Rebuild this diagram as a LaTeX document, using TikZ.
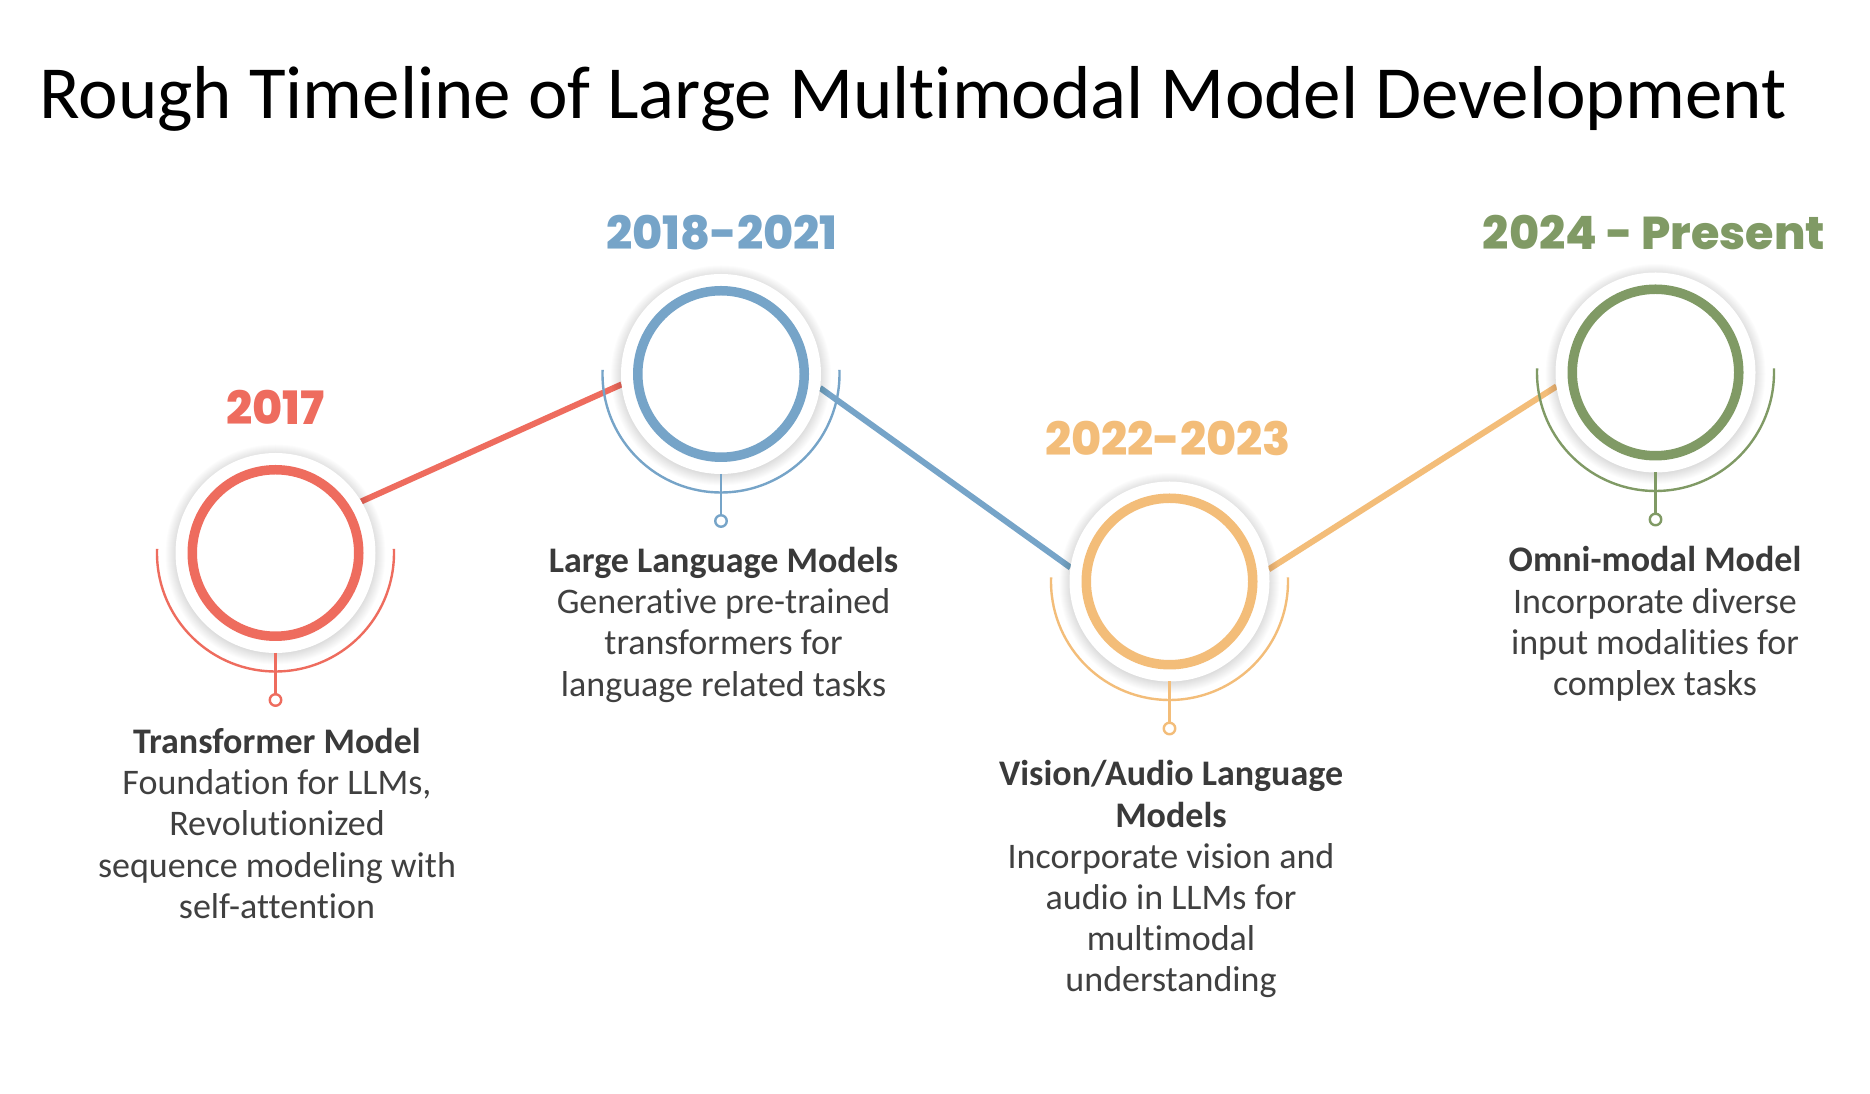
\documentclass[tikz,border=0pt]{standalone}
\usepackage{fontspec}
\setmainfont{Carlito}[Ligatures={NoCommon}]
\newfontfamily\yearfont{Poppins}[BoldFont={* ExtraBold}]
\usetikzlibrary{calc}
\pgfdeclarelayer{back}
\pgfsetlayers{back,main}

\definecolor{cred}{HTML}{EE6C5E}
\definecolor{cblue}{HTML}{76A4C8}
\definecolor{corange}{HTML}{F3BD79}
\definecolor{cgreen}{HTML}{809A65}
\definecolor{headcol}{HTML}{3A3A3A}
\definecolor{bodycol}{HTML}{404040}

\tikzset{
  disc/.style={circle, minimum size=200pt, inner sep=0pt, outer sep=0pt, fill=white},
  glow/.style={fill=black, fill opacity=0.011, draw=none},
  ring/.style={circle, minimum size=166.5pt, inner sep=0pt, outer sep=0pt, draw=#1, line width=9.5pt},
  halfarc/.style={draw=#1, line width=2.4pt},
  stem/.style={draw=#1, line width=2.4pt},
  dot/.style={circle, minimum size=11.5pt, inner sep=0pt, outer sep=0pt, draw=#1, line width=2.4pt, fill=white},
  link/.style={draw=#1, line width=6pt},
  year/.style={text=#1, anchor=base, inner sep=0pt, font=\yearfont\bfseries\fontsize{46}{52}\selectfont},
  desc/.style={anchor=base, inner sep=0pt, text=bodycol, font=\fontsize{36}{41.2}\selectfont},
}

\begin{document}
\begin{tikzpicture}[x=1pt,y=1pt]
\useasboundingbox (0,0) rectangle (1870,1094);
\begin{pgfonlayer}{back}
  \fill[white] (0,0) rectangle (1870,1094);
\end{pgfonlayer}

% title
\node[anchor=base, inner sep=0pt, font=\fontsize{75}{88}\selectfont] (title) at (913,975)
  {Rough Timeline of Large Multimodal Model Development};

% centres
\coordinate (p1) at (275.5,541);
\coordinate (p2) at (721,720);
\coordinate (p3) at (1169.5,512.5);
\coordinate (p4) at (1655.5,721.5);

% soft shadows around the discs
\foreach \p in {p1,p2,p3,p4}{
  \foreach \r in {99,100,...,110}{
    \fill[glow] ($(\p)+(0,-1.5)$) circle[radius=\r];
  }
}

% milestone discs
\node[disc] (c1) at (p1) {};
\node[disc] (c2) at (p2) {};
\node[disc] (c3) at (p3) {};
\node[disc] (c4) at (p4) {};

% connectors under the discs
\begin{pgfonlayer}{back}
  \draw[link=cred] (c1.31) -- (c2.186);
  \draw[link=cblue] (c2.-8) -- (c3.172);
  \draw[link=corange] (c3.7.7) -- (c4.188);
\end{pgfonlayer}

% rings
\node[ring=cred] (r1) at (c1) {};
\node[ring=cblue] (r2) at (c2) {};
\node[ring=corange] (r3) at (c3) {};
\node[ring=cgreen] (r4) at (c4) {};

% lower arcs
\draw[halfarc=cred] ($(c1.center)+(178:118.5)$) arc[start angle=178, end angle=362, radius=118.5];
\draw[halfarc=cblue] ($(c2.center)+(178:118.5)$) arc[start angle=178, end angle=362, radius=118.5];
\draw[halfarc=corange] ($(c3.center)+(178:118.5)$) arc[start angle=178, end angle=362, radius=118.5];
\draw[halfarc=cgreen] ($(c4.center)+(178:118.5)$) arc[start angle=178, end angle=362, radius=118.5];

% stems and end dots
\node[dot=cred] (d1) at ($(c1.center)+(0,-147)$) {};
\node[dot=cblue] (d2) at ($(c2.center)+(0,-147)$) {};
\node[dot=corange] (d3) at ($(c3.center)+(0,-147)$) {};
\node[dot=cgreen] (d4) at ($(c4.center)+(0,-147)$) {};
\draw[stem=cred] (c1.south) -- (d1.north);
\draw[stem=cblue] (c2.south) -- (d2.north);
\draw[stem=corange] (c3.south) -- (d3.north);
\draw[stem=cgreen] (c4.south) -- (d4.north);

% years
\node[year=cred] (y1) at (275.5,669) {2017};
\node[year=cblue] (y2) at (722,844) {2018-2021};
\node[year=corange] (y3) at (1168,638) {2022-2023};
\node[year=cgreen] (y4) at (1654,844) {2024 - Present};

% descriptions
\node[desc] (t1) at (277,340.5) {\begin{tabular}[t]{@{}c@{}}
  \bfseries\color{headcol}Transformer Model\\
  Foundation for LLMs,\\
  Revolutionized\\
  sequence modeling with\\
  self-attention
\end{tabular}};
\node[desc] (t2) at (723.5,521.5) {\begin{tabular}[t]{@{}c@{}}
  \bfseries\color{headcol}Large Language Models\\
  Generative pre-trained\\
  transformers for\\
  language related tasks
\end{tabular}};
\node[desc] (t3) at (1171,308) {\begin{tabular}[t]{@{}c@{}}
  \bfseries\color{headcol}Vision/Audio Language\\
  \bfseries\color{headcol}Models\\
  Incorporate vision and\\
  audio in LLMs for\\
  multimodal\\
  understanding
\end{tabular}};
\node[desc] (t4) at (1655,522) {\begin{tabular}[t]{@{}c@{}}
  \bfseries\color{headcol}Omni-modal Model\\
  Incorporate diverse\\
  input modalities for\\
  complex tasks
\end{tabular}};
\end{tikzpicture}
\end{document}
